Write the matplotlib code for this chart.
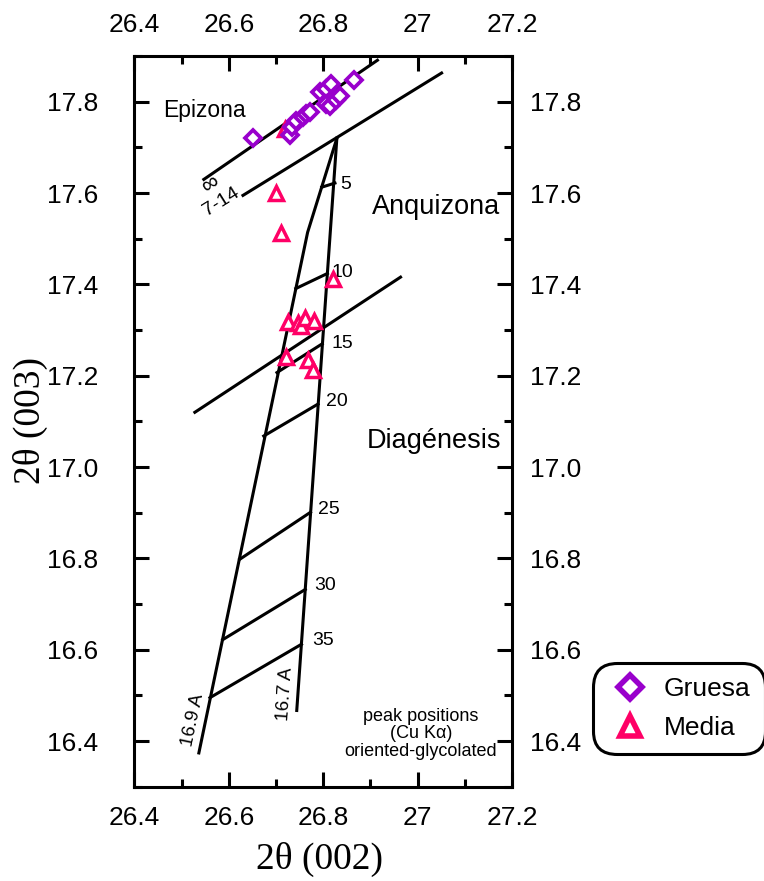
import matplotlib
matplotlib.use("Agg")
import matplotlib.pyplot as plt
from matplotlib.ticker import MultipleLocator
from matplotlib.lines import Line2D

plt.rcParams["font.family"] = ["Liberation Sans", "DejaVu Sans"]

# muestras fraccion gruesa (rombos)
gruesa_x = [26.651, 26.729, 26.733, 26.742, 26.757, 26.763, 26.772, 26.793,
            26.807, 26.816, 26.805, 26.814, 26.827, 26.835, 26.865]
gruesa_y = [17.720, 17.727, 17.744, 17.758, 17.766, 17.773, 17.777, 17.821,
            17.828, 17.839, 17.795, 17.790, 17.804, 17.812, 17.847]

# muestras fraccion media (triangulos)
media_x = [26.720, 26.700, 26.710, 26.820, 26.725, 26.746, 26.752, 26.761,
           26.780, 26.721, 26.767, 26.778]
media_y = [17.740, 17.600, 17.512, 17.413, 17.317, 17.315, 17.310, 17.326,
           17.321, 17.240, 17.234, 17.212]

# limites de zona
linea_inf_x = [26.547, 26.915]
linea_inf_y = [17.630, 17.891]
linea_714_x = [26.630, 27.051]
linea_714_y = [17.595, 17.863]
linea_diag_x = [26.528, 26.964]
linea_diag_y = [17.120, 17.416]

# curvas 16.9 A y 16.7 A
curva_169_x = [26.829, 26.767, 26.5365]
curva_169_y = [17.720, 17.514, 16.374]
recta_167_x = [26.829, 26.744]
recta_167_y = [17.720, 16.467]

# escalones (% de capas expansivas)
esc_etiquetas = ["5", "10", "15", "20", "25", "30", "35"]
esc_izq_x = [26.797, 26.742, 26.702, 26.674, 26.623, 26.587, 26.560]
esc_izq_y = [17.613, 17.391, 17.207, 17.068, 16.798, 16.622, 16.495]
esc_der_x = [26.825, 26.809, 26.798, 26.789, 26.773, 26.762, 26.754]
esc_der_y = [17.622, 17.424, 17.270, 17.138, 16.901, 16.732, 16.612]
esc_txt_x = [26.837, 26.818, 26.818, 26.805, 26.789, 26.782, 26.776]
esc_txt_y = [17.618, 17.427, 17.271, 17.144, 16.907, 16.741, 16.620]

ticks_x = [26.4, 26.6, 26.8, 27.0, 27.2]
ticks_x_txt = ["26.4", "26.6", "26.8", "27", "27.2"]
ticks_y = [16.4, 16.6, 16.8, 17.0, 17.2, 17.4, 17.6, 17.8]

morado = "#9900CC"
rosa = "#FF0066"
lw = 2.2

fig = plt.figure(figsize=(7.64, 8.81), dpi=100)
ax = fig.add_axes([0.176, 0.107, 0.494, 0.8293])

ax.plot(linea_inf_x, linea_inf_y, color="black", lw=lw)
ax.plot(linea_714_x, linea_714_y, color="black", lw=lw)
ax.plot(linea_diag_x, linea_diag_y, color="black", lw=lw)
ax.plot(curva_169_x, curva_169_y, color="black", lw=lw)
ax.plot(recta_167_x, recta_167_y, color="black", lw=lw)
for i in range(len(esc_etiquetas)):
    ax.plot([esc_izq_x[i], esc_der_x[i]], [esc_izq_y[i], esc_der_y[i]],
            color="black", lw=lw)
    ax.text(esc_txt_x[i], esc_txt_y[i], esc_etiquetas[i], fontsize=14,
            ha="left", va="center")

ax.plot(media_x, media_y, ls="none", marker="^", ms=10, mew=2.5,
        mfc="white", mec=rosa, zorder=3)
ax.plot(gruesa_x, gruesa_y, ls="none", marker="D", ms=8.5, mew=2.7,
        mfc="white", mec=morado, zorder=4)

ax.text(26.562, 17.618, "∞", fontsize=17, rotation=32, ha="center", va="center")
ax.text(26.583, 17.580, "7-14", fontsize=14, rotation=32, ha="center", va="center")
ax.text(26.524, 16.445, "16.9 A", fontsize=13.5, rotation=78, ha="center", va="center")
ax.text(26.719, 16.504, "16.7 A", fontsize=13.5, rotation=86, ha="center", va="center")

ax.text(26.549, 17.782, "Epizona", fontsize=16.5, ha="center", va="center")
ax.text(27.040, 17.569, "Anquizona", fontsize=19.5, ha="center", va="center")
ax.text(27.035, 17.058, "Diagénesis", fontsize=19.5, ha="center", va="center")
ax.text(27.007, 16.416, "peak positions\n(Cu Kα)\noriented-glycolated",
        fontsize=13, ha="center", va="center", linespacing=1.05)

ax.set_xlim(26.4, 27.2)
ax.set_ylim(16.3, 17.9)
ax.set_xticks(ticks_x)
ax.set_xticklabels(ticks_x_txt)
ax.set_yticks(ticks_y)
ax.set_yticklabels([f"{v:.1f}" for v in ticks_y])
ax.xaxis.set_minor_locator(MultipleLocator(0.1))
ax.yaxis.set_minor_locator(MultipleLocator(0.1))
ax.tick_params(which="both", direction="in", width=lw, top=True, labeltop=True,
               labelsize=19)
ax.tick_params(which="major", length=11)
ax.tick_params(which="minor", length=6)
ax.tick_params(axis="x", pad=14)
ax.tick_params(axis="y", pad=26)
for s in ax.spines.values():
    s.set_linewidth(lw)

# eje derecho con las mismas marcas
ax2 = ax.twinx()
ax2.set_ylim(ax.get_ylim())
ax2.set_yticks(ticks_y)
ax2.set_yticklabels([f"{v:.1f}" for v in ticks_y])
ax2.yaxis.set_minor_locator(MultipleLocator(0.1))
ax2.tick_params(which="both", direction="in", width=lw, labelsize=19, pad=13)
ax2.tick_params(which="major", length=11)
ax2.tick_params(which="minor", length=6)
ax.tick_params(axis="y", right=False)

# titulos de los ejes
fig.text(0.418, 0.025, "2θ (002)", fontsize=27, family=["Liberation Serif"],
         ha="center", va="center")
fig.text(0.040, 0.523, "2θ (003)", fontsize=27, family=["Liberation Serif"],
         ha="center", va="center", rotation=90)

handles = [
    Line2D([], [], ls="none", marker="D", ms=12, mew=4, mfc="white", mec=morado),
    Line2D([], [], ls="none", marker="^", ms=14, mew=4, mfc="white", mec=rosa),
]
leg = ax.legend(handles, ["Gruesa", "Media"], loc="upper left",
                bbox_to_anchor=(0.776, 0.2475), bbox_transform=fig.transFigure,
                fontsize=19, borderaxespad=0, borderpad=0.55, handlelength=1.75,
                handletextpad=0.4, labelspacing=0.55, fancybox=True,
                framealpha=1)
leg.get_frame().set_edgecolor("black")
leg.get_frame().set_linewidth(lw)
leg.get_frame().set_boxstyle("round,pad=0,rounding_size=0.9")

fig.savefig("out.png", dpi=100)
